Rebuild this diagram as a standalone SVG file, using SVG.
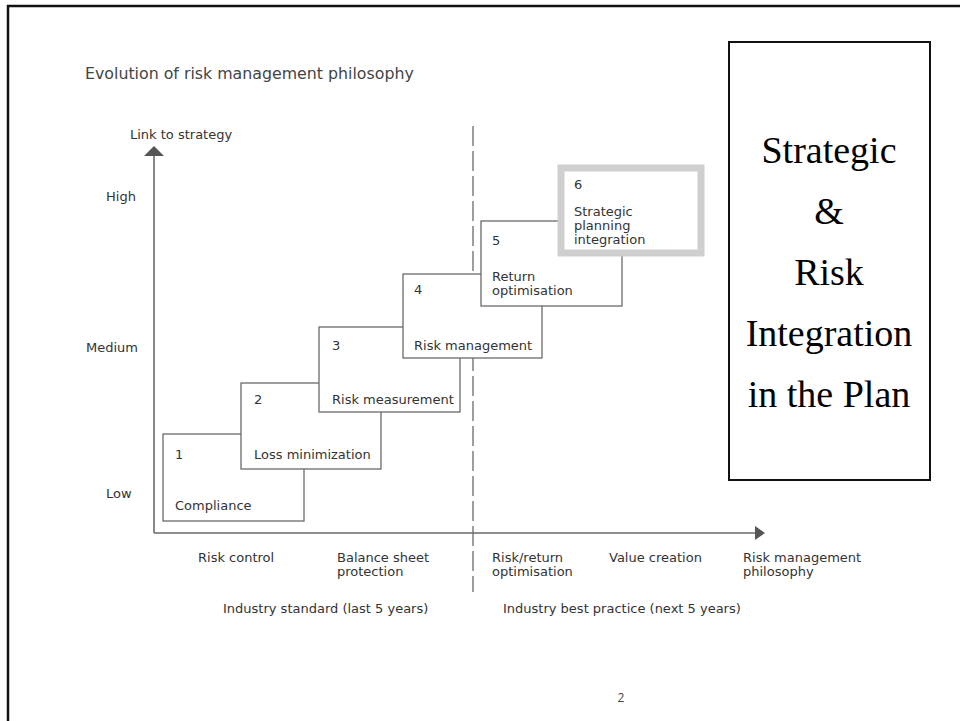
<svg xmlns="http://www.w3.org/2000/svg" width="960" height="721" viewBox="0 0 960 721">
  <defs>
    <style>
      .lbl { font-family: "DejaVu Sans", "Liberation Sans", sans-serif; font-size: 13px; fill: #333; }
      .axlbl { font-family: "DejaVu Sans", "Liberation Sans", sans-serif; font-size: 13px; fill: #333; }
      .title { font-family: "DejaVu Sans", "Liberation Sans", sans-serif; font-size: 15.8px; fill: #444; }
      .step { fill: #fff; stroke: #6a6a6a; stroke-width: 1.3; }
      .axis { stroke: #6a6a6a; stroke-width: 1.6; fill: none; }
      .serif { font-family: "Liberation Serif", "Times New Roman", serif; font-size: 38px; fill: #000; text-anchor: middle; }
    </style>
  </defs>

  <rect width="960" height="721" fill="#fff"/>

  <!-- page frame (left and top edges) -->
  <path d="M8,721 V6 H960" fill="none" stroke="#111" stroke-width="2.5"/>

  <text class="title" x="85" y="79">Evolution of risk management philosophy</text>

  <!-- axes and divider -->
  <g id="connectors">
    <line class="axis" x1="154" y1="155" x2="154" y2="533"/>
    <polygon points="144,156 154,146 164,156" fill="#555"/>
    <line class="axis" x1="154" y1="533" x2="755" y2="533"/>
    <polygon points="755,526 765,533 755,540" fill="#555"/>
    <line x1="473" y1="126" x2="473" y2="592" stroke="#6a6a6a" stroke-width="1.3" stroke-dasharray="20,5"/>
  </g>

  <!-- axis labels -->
  <text class="axlbl" x="130" y="139">Link to strategy</text>
  <text class="axlbl" x="106" y="201">High</text>
  <text class="axlbl" x="86" y="352">Medium</text>
  <text class="axlbl" x="106" y="498">Low</text>

  <text class="axlbl" x="198" y="562">Risk control</text>
  <text class="axlbl" x="337" y="562">Balance sheet</text>
  <text class="axlbl" x="337" y="576">protection</text>
  <text class="axlbl" x="492" y="562">Risk/return</text>
  <text class="axlbl" x="492" y="576">optimisation</text>
  <text class="axlbl" x="609" y="562">Value creation</text>
  <text class="axlbl" x="743" y="562">Risk management</text>
  <text class="axlbl" x="743" y="576">philosophy</text>
  <text class="axlbl" x="223" y="613">Industry standard (last 5 years)</text>
  <text class="axlbl" x="503" y="613">Industry best practice (next 5 years)</text>

  <!-- stepped stages -->
  <g id="step1">
    <rect class="step" x="163" y="434" width="141" height="87"/>
    <text class="lbl" x="175" y="459">1</text>
    <text class="lbl" x="175" y="510">Compliance</text>
  </g>
  <g id="step2">
    <rect class="step" x="241" y="383" width="140" height="86"/>
    <text class="lbl" x="254" y="404">2</text>
    <text class="lbl" x="254" y="459">Loss minimization</text>
  </g>
  <g id="step3">
    <rect class="step" x="319" y="327" width="141" height="85"/>
    <text class="lbl" x="332" y="350">3</text>
    <text class="lbl" x="332" y="404">Risk measurement</text>
  </g>
  <g id="step4">
    <rect class="step" x="403" y="274" width="139" height="84"/>
    <text class="lbl" x="414" y="294">4</text>
    <text class="lbl" x="414" y="350">Risk management</text>
  </g>
  <g id="step5">
    <rect class="step" x="481" y="221" width="141" height="85"/>
    <text class="lbl" x="492" y="245">5</text>
    <text class="lbl" x="492" y="281">Return</text>
    <text class="lbl" x="492" y="295">optimisation</text>
  </g>
  <g id="step6">
    <rect x="561" y="168" width="140" height="85" fill="#fff" stroke="#cfcfcf" stroke-width="7"/>
    <text class="lbl" x="574" y="189">6</text>
    <text class="lbl" x="574" y="216">Strategic</text>
    <text class="lbl" x="574" y="230">planning</text>
    <text class="lbl" x="574" y="244">integration</text>
  </g>

  <!-- side panel -->
  <g id="panel">
    <rect x="729" y="42" width="201" height="438" fill="#fff" stroke="#111" stroke-width="2"/>
    <text class="serif" x="829" y="163">Strategic</text>
    <text class="serif" x="829" y="224">&amp;</text>
    <text class="serif" x="829" y="285">Risk</text>
    <text class="serif" x="829" y="346">Integration</text>
    <text class="serif" x="829" y="407">in the Plan</text>
  </g>

  <text x="621" y="702" font-family="Open Sans, Liberation Sans, sans-serif" font-size="12" fill="#444" text-anchor="middle">2</text>
</svg>
